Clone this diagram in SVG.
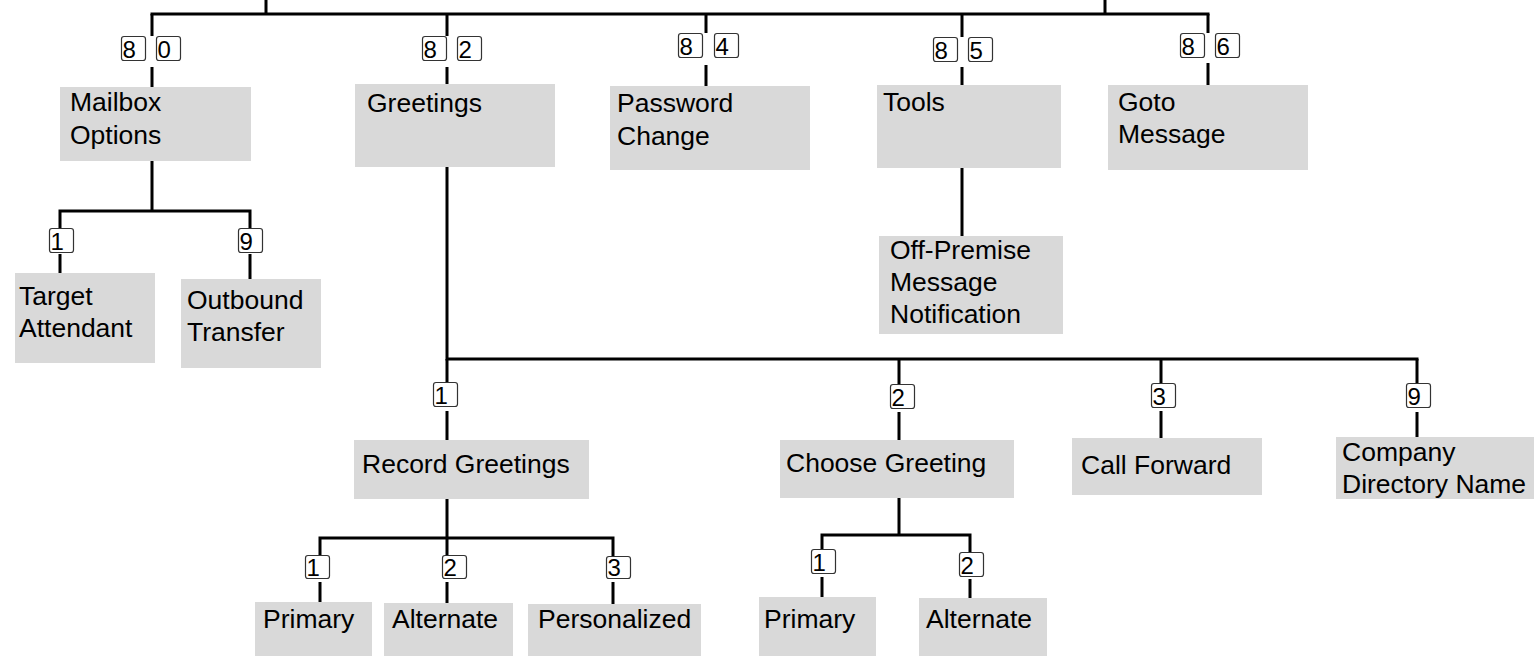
<svg xmlns="http://www.w3.org/2000/svg" width="1534" height="656" viewBox="0 0 1534 656">
<style>
.box{fill:#d9d9d9}
.t{font-family:"Liberation Sans",Arial,sans-serif;font-size:26.5px;fill:#000}
.k{fill:#fff;stroke:#333;stroke-width:1.2}
.kt{font-family:"Liberation Sans",Arial,sans-serif;font-size:24px;fill:#000}
#connectors path{stroke:#000;stroke-width:3;fill:none}
</style>
<rect width="1534" height="656" fill="#fff"/>
<g id="connectors">
<path d="M266 0V14M1105 0V14M150.5 14H1209.5"/>
<path d="M152 14V36M152 67V87"/>
<path d="M447 14V36M447 67V84"/>
<path d="M706 14V33M706 65V86"/>
<path d="M962 14V37M962 67V85"/>
<path d="M1208 14V33M1208 63V85"/>
<path d="M152 161V211M58.5 211H251.5M60 211V228M60 254V273M250 211V228M250 254V279"/>
<path d="M962 168V236"/>
<path d="M447 167V359M445.5 359H1418.5"/>
<path d="M447 359V382M447 411V440M899 359V384M899 412V440M1161 359V383M1161 411V438M1417 359V383M1417 412V437"/>
<path d="M447 499V538M318.5 538H614.5M320 538V555M320 582V603M447 538V555M447 582V603M613 538V556M613 582V604"/>
<path d="M899 498V535M820.5 535H971.5M822 535V549M822 577V597M970 535V552M970 579V598"/>
</g>
<g id="keys">
<rect class="k" x="121.5" y="36.5" width="24" height="24" rx="2.5"/><text class="kt" x="122.5" y="57.5">8</text>
<rect class="k" x="156.5" y="36.5" width="24" height="24" rx="2.5"/><text class="kt" x="157.5" y="57.5">0</text>
<rect class="k" x="422.5" y="36.5" width="24" height="24" rx="2.5"/><text class="kt" x="423.5" y="57.5">8</text>
<rect class="k" x="457.5" y="36.5" width="24" height="24" rx="2.5"/><text class="kt" x="458.5" y="57.5">2</text>
<rect class="k" x="678.5" y="33.5" width="24" height="24" rx="2.5"/><text class="kt" x="679.5" y="54.5">8</text>
<rect class="k" x="714.5" y="33.5" width="24" height="24" rx="2.5"/><text class="kt" x="715.5" y="54.5">4</text>
<rect class="k" x="933.5" y="37.5" width="24" height="24" rx="2.5"/><text class="kt" x="934.5" y="58.5">8</text>
<rect class="k" x="968.5" y="37.5" width="24" height="24" rx="2.5"/><text class="kt" x="969.5" y="58.5">5</text>
<rect class="k" x="1180.5" y="33.5" width="24" height="24" rx="2.5"/><text class="kt" x="1181.5" y="54.5">8</text>
<rect class="k" x="1215.5" y="33.5" width="24" height="24" rx="2.5"/><text class="kt" x="1216.5" y="54.5">6</text>
<rect class="k" x="49.5" y="228.5" width="24" height="24" rx="2.5"/><text class="kt" x="50.5" y="249.5">1</text>
<rect class="k" x="238.5" y="228.5" width="24" height="24" rx="2.5"/><text class="kt" x="239.5" y="249.5">9</text>
<rect class="k" x="433.5" y="382.5" width="24" height="24" rx="2.5"/><text class="kt" x="434.5" y="403.5">1</text>
<rect class="k" x="890.5" y="384.5" width="24" height="24" rx="2.5"/><text class="kt" x="891.5" y="405.5">2</text>
<rect class="k" x="1151.5" y="383.5" width="24" height="24" rx="2.5"/><text class="kt" x="1152.5" y="404.5">3</text>
<rect class="k" x="1406.5" y="383.5" width="24" height="24" rx="2.5"/><text class="kt" x="1407.5" y="404.5">9</text>
<rect class="k" x="305.5" y="555.5" width="24" height="23" rx="2.5"/><text class="kt" x="306.5" y="575.5">1</text>
<rect class="k" x="442.5" y="555.5" width="24" height="23" rx="2.5"/><text class="kt" x="443.5" y="575.5">2</text>
<rect class="k" x="606.5" y="556.5" width="24" height="22" rx="2.5"/><text class="kt" x="607.5" y="575.5">3</text>
<rect class="k" x="811.5" y="549.5" width="24" height="24" rx="2.5"/><text class="kt" x="812.5" y="570.5">1</text>
<rect class="k" x="959.5" y="552.5" width="24" height="24" rx="2.5"/><text class="kt" x="960.5" y="573.5">2</text>
</g>
<g id="mailbox-options"><rect class="box" x="60" y="87" width="191" height="74"/><text class="t" x="70" y="111">Mailbox</text><text class="t" x="70" y="144">Options</text></g>
<g id="greetings"><rect class="box" x="355" y="84" width="200" height="83"/><text class="t" x="367" y="112">Greetings</text></g>
<g id="password-change"><rect class="box" x="610" y="86" width="200" height="84"/><text class="t" x="617" y="112">Password</text><text class="t" x="617" y="145">Change</text></g>
<g id="tools"><rect class="box" x="877" y="85" width="184" height="83"/><text class="t" x="883" y="111">Tools</text></g>
<g id="goto-message"><rect class="box" x="1108" y="85" width="200" height="85"/><text class="t" x="1118" y="111">Goto</text><text class="t" x="1118" y="143">Message</text></g>
<g id="target-attendant"><rect class="box" x="15" y="273" width="140" height="90"/><text class="t" x="19" y="305">Target</text><text class="t" x="19" y="337">Attendant</text></g>
<g id="outbound-transfer"><rect class="box" x="181" y="279" width="140" height="89"/><text class="t" x="187" y="309">Outbound</text><text class="t" x="187" y="341">Transfer</text></g>
<g id="off-premise"><rect class="box" x="879" y="236" width="184" height="98"/><text class="t" x="890" y="259">Off-Premise</text><text class="t" x="890" y="291">Message</text><text class="t" x="890" y="323">Notification</text></g>
<g id="record-greetings"><rect class="box" x="354" y="440" width="235" height="59"/><text class="t" x="362" y="473">Record Greetings</text></g>
<g id="choose-greeting"><rect class="box" x="780" y="440" width="234" height="58"/><text class="t" x="786" y="472">Choose Greeting</text></g>
<g id="call-forward"><rect class="box" x="1072" y="438" width="190" height="57"/><text class="t" x="1081" y="474">Call Forward</text></g>
<g id="company-directory-name"><rect class="box" x="1336" y="437" width="198" height="62"/><text class="t" x="1342" y="461">Company</text><text class="t" x="1342" y="493">Directory Name</text></g>
<g id="rec-primary"><rect class="box" x="255" y="602" width="117" height="54"/><text class="t" x="263" y="628">Primary</text></g>
<g id="rec-alternate"><rect class="box" x="384" y="603" width="129" height="53"/><text class="t" x="392" y="628">Alternate</text></g>
<g id="rec-personalized"><rect class="box" x="528" y="604" width="173" height="52"/><text class="t" x="538" y="628">Personalized</text></g>
<g id="choose-primary"><rect class="box" x="759" y="597" width="117" height="59"/><text class="t" x="764" y="628">Primary</text></g>
<g id="choose-alternate"><rect class="box" x="919" y="598" width="128" height="58"/><text class="t" x="926" y="628">Alternate</text></g>
</svg>
